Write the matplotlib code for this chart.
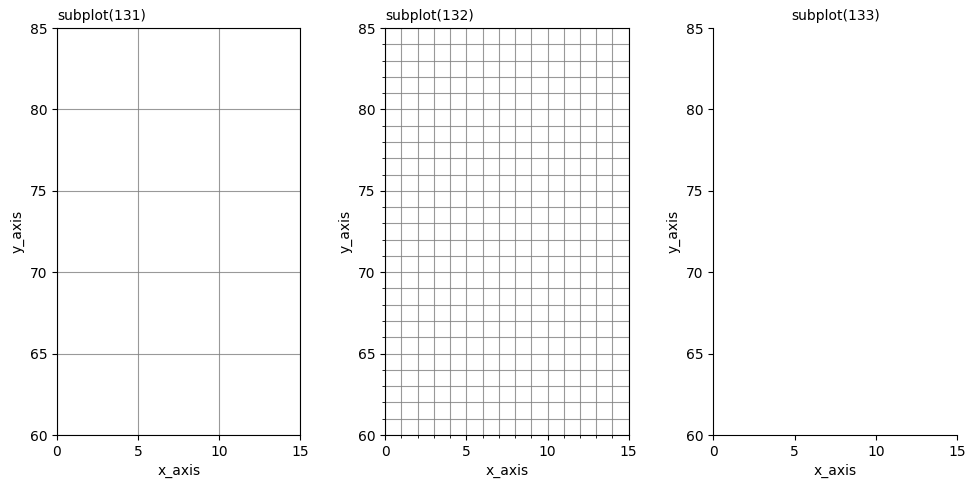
import matplotlib.pyplot as plt
from matplotlib.ticker import MultipleLocator

xlim = [0, 15]
ylim = [60, 85]
xticks = [0, 5, 10, 15]
yticks = [60, 65, 70, 75, 80, 85]
titles = ["subplot(131)", "subplot(132)", "subplot(133)"]
title_locs = ["left", "left", "center"]

fig = plt.figure(figsize=(9.76, 4.88), dpi=100)

for i in range(3):
    ax = fig.add_subplot(1, 3, i + 1)
    ax.set_xlim(xlim)
    ax.set_ylim(ylim)
    ax.set_xticks(xticks)
    ax.set_yticks(yticks)
    ax.set_xlabel("x_axis")
    ax.set_ylabel("y_axis")
    ax.set_title(titles[i], loc=title_locs[i], fontsize=10)

    if i == 0:
        ax.grid(True, color="gray", alpha=0.8)
    elif i == 1:
        ax.xaxis.set_minor_locator(MultipleLocator(1))
        ax.yaxis.set_minor_locator(MultipleLocator(1))
        ax.grid(True, which="both", color="gray", alpha=0.8)
    else:
        ax.spines["top"].set_visible(False)
        ax.spines["right"].set_visible(False)

plt.subplots_adjust(left=0.0584, right=0.9805, top=0.9426, bottom=0.1086, wspace=0.348)
plt.savefig("out.png")
